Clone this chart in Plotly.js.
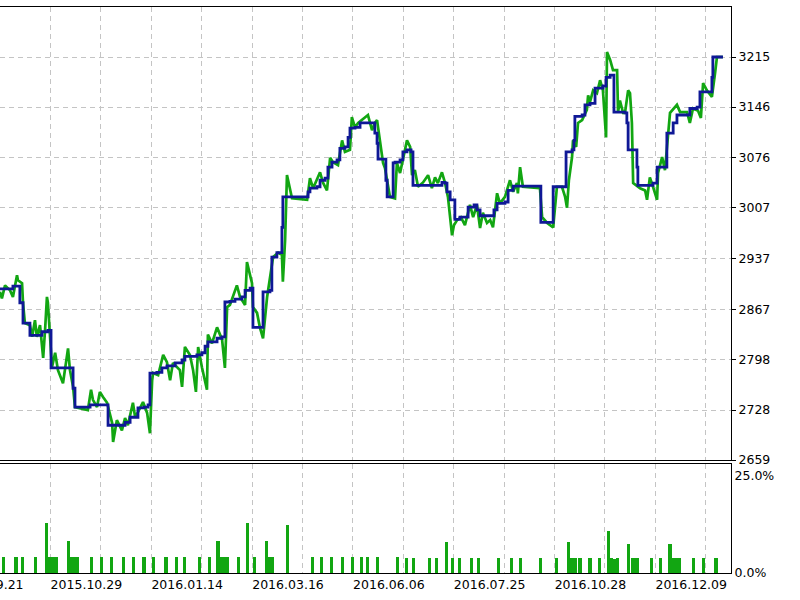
<!DOCTYPE html>
<html><head><meta charset="utf-8">
<script src="https://cdn.plot.ly/plotly-3.0.1.min.js"></script>
<style>html,body{margin:0;padding:0;background:#fff;} #chart{width:800px;height:600px;}</style>
</head><body><div id="chart"></div>
<script>
// ---- Balance (step line), x = deal number ----
const balanceDeal = [0,4.1,6.3,7.3,9.5,13.3,15.2,16.2,23.2,23.8,
 28.6,34.3,39.7,41.3,43.8,45.7,47.0,47.6,49.8,51.4,
 53.0,55.6,57.8,58.7,62.5,64.1,65.1,66.0,68.9,70.5,
 71.4,73.0,74.6,76.8,77.8,79.4,80.3,83.5,85.7,86.3,
 87.9,89.5,89.8,97.8,98.4,100.6,101.6,103.2,104.1,105.4,
 107.0,107.9,109.5,110.5,111.1,112.7,114.3,119.0,119.7,120.0,
 122.5,122.9,124.8,125.4,127.0,127.9,129.2,130.5,131.1,140.3,
 141.3,141.9,142.9,144.4,146.0,148.6,150.5,151.4,152.4,156.8,
 157.8,160.3,161.3,162.9,171.7,175.6,179.7,181.6,182.2,182.5,
 184.8,185.7,187.3,188.9,191.4,192.4,193.7,194.9,198.4,199.0,
 199.4,202.2,202.5,207.3,208.6,211.7,213.7,214.9,219.0,221.3,
 222.2,226.0,226.3,229.5];
const balanceValue = [2895,2899,2876,2848,2831,2836,2838,2786,2758,2732,
 2735,2707,2711,2718,2731,2732,2735,2779,2780,2786,
 2789,2793,2797,2802,2804,2807,2816,2822,2827,2829,
 2877,2878,2881,2884,2893,2896,2842,2891,2893,2939,
 2945,2980,3022,3029,3034,3036,3045,3048,3063,3070,
 3073,3089,3091,3104,3117,3118,3124,3110,3096,3074,
 3045,3022,3069,3070,3073,3084,3087,3084,3038,3042,
 3041,3029,3018,2991,2994,3008,3011,3004,2996,3004,
 3013,3015,3031,3037,2987,3036,3084,3087,3100,3133,
 3135,3149,3151,3172,3175,3187,3190,3139,3138,3124,
 3087,3063,3038,3041,3063,3110,3124,3135,3144,3146,
 3167,3187,3215,3215];

// ---- Equity ----
const equityDeal = [0,0.6,1.6,3.2,4.1,5.4,5.7,7.0,7.3,7.9,
 9.5,10.2,11.1,11.7,12.7,13.7,14.3,14.9,15.2,15.9,
 16.5,17.5,18.4,20.0,20.6,21.6,22.2,23.2,23.8,24.8,
 27.9,28.9,29.5,30.8,31.7,32.7,34.0,35.6,35.9,37.1,
 38.1,38.7,39.7,40.6,42.2,42.9,43.8,45.4,46.7,47.6,
 48.3,48.6,50.2,51.8,53.0,54.0,54.9,56.2,57.1,57.8,
 58.7,60.3,61.3,62.2,62.9,64.1,65.7,66.0,67.3,68.9,
 70.5,71.4,72.1,73.0,75.2,76.2,77.8,78.4,79.4,80.0,
 80.3,81.6,82.5,83.5,84.8,86.7,88.3,89.5,89.8,90.5,
 91.1,92.1,92.7,97.5,98.4,99.4,101.6,102.5,103.8,104.8,
 105.7,107.3,108.6,109.5,111.1,111.7,112.7,113.7,116.8,118.1,
 119.0,119.7,120.6,121.6,122.2,123.8,125.4,126.0,127.0,127.9,
 129.2,130.2,130.8,131.7,132.7,134.3,135.9,137.1,138.1,139.0,
 140.3,141.3,142.2,143.5,144.1,145.1,146.3,147.6,149.2,150.2,
 151.4,152.4,153.3,154.6,155.6,156.5,157.8,158.7,160.3,161.9,
 162.9,164.1,164.4,165.1,165.7,166.0,171.4,172.1,173.7,175.6,
 176.8,178.4,179.4,180.0,180.6,181.6,181.9,182.9,183.5,184.8,
 186.3,186.7,187.3,188.3,189.5,190.5,191.4,192.4,192.7,193.7,
 194.6,195.9,196.2,196.8,197.8,198.4,199.4,200.0,200.6,201.0,
 203.2,204.8,205.4,206.3,207.3,208.6,208.9,210.2,211.1,212.7,
 214.9,215.9,218.1,219.0,220.0,221.6,222.5,223.2,224.4,226.0,
 227.0,227.6,229.5];
const equityValue = [2891,2882,2900,2893,2884,2914,2907,2903,2876,2848,
 2845,2829,2852,2829,2845,2800,2838,2884,2876,2831,
 2787,2807,2783,2765,2783,2813,2783,2760,2732,2731,
 2728,2756,2742,2732,2753,2746,2738,2710,2684,2714,
 2705,2700,2717,2707,2738,2718,2725,2739,2724,2696,
 2769,2779,2776,2804,2794,2769,2793,2787,2783,2760,
 2815,2804,2783,2753,2815,2787,2756,2832,2820,2842,
 2825,2786,2870,2873,2900,2884,2873,2932,2911,2903,
 2870,2862,2842,2827,2884,2939,2945,2942,2905,2962,
 3052,3031,3020,3018,3048,3034,3056,3042,3031,3076,
 3070,3066,3100,3084,3087,3132,3118,3124,3135,3114,
 3124,3128,3096,3069,3062,3022,3020,3069,3055,3073,
 3100,3091,3052,3059,3036,3042,3052,3034,3049,3041,
 3056,3041,3022,2969,2983,2990,2994,2983,3011,2994,
 3011,2979,3000,2986,2990,2980,3027,3013,3022,3045,
 3029,3041,3027,3063,3045,3036,3034,2994,2986,2980,
 3036,3036,3022,3007,3045,3077,3100,3091,3124,3128,
 3142,3162,3153,3169,3165,3183,3169,3104,3222,3211,
 3197,3197,3139,3155,3138,3138,3169,3165,3124,3041,
 3034,3031,3018,3049,3036,3018,3055,3077,3059,3138,
 3149,3139,3139,3124,3144,3141,3131,3179,3169,3160,
 3193,3215,3215];

// ---- Deposit load (%) ----
const loadDeal = [1.0,5.1,7.2,11.4,14.8,15.8,16.8,17.8,21.7,22.7,
 23.7,24.7,29.1,32.3,35.5,39.2,42.3,45.7,48.7,52.7,
 55.9,58.7,63.3,66.4,69.2,70.2,71.2,72.2,75.7,78.5,
 80.7,84.7,85.7,86.6,91.3,99.3,102.1,105.3,108.7,111.8,
 114.8,116.7,119.8,126.3,129.1,131.2,136.3,138.6,141.8,143.7,
 145.8,149.7,151.8,158.2,162.4,165.3,171.7,176.7,180.6,181.6,
 182.6,184.1,187.3,190.3,193.1,194.1,195.1,196.1,199.6,200.8,
 201.7,202.5,206.9,209.7,212.7,213.7,214.7,215.7,220.1,223.3,
 227.3];
const loadPercent = [4.2,4.2,4.2,4.2,12.8,4.2,4.2,4.2,8.2,4.2,
 4.2,4.2,4.2,4.2,4.2,4.2,4.2,4.2,4.2,4.2,
 4.2,4.2,4.2,4.2,8.2,4.2,4.2,4.2,4.2,12.8,
 4.2,8.2,4.2,4.2,12.3,4.2,4.2,4.2,4.2,4.2,
 4.2,4.2,4.2,4.2,3.8,3.8,3.8,3.8,7.9,3.8,
 3.8,3.8,3.8,3.8,3.8,3.8,3.8,3.8,7.9,3.8,
 3.8,3.8,3.8,3.8,10.8,3.8,3.6,3.8,7.5,3.8,
 3.8,3.8,3.8,3.8,7.5,3.8,3.8,3.8,3.8,3.8,
 3.8];

// ---- Axes ----
const gridDeals = [0,16,32,48,64,80,96,112,128,144,160,176,192,208,224];
const dateLabels = ['','2015.10.29','','2016.01.14','','2016.03.16','','2016.06.06','','2016.07.25','','2016.10.28','','2016.12.09',''];
const firstDate = '2015.09.21';
const firstDateDeal = -16;
const priceTicks = [2659,2728,2798,2867,2937,3007,3076,3146,3215];
const loadTicks = [0,25];
const loadTickLabels = ['0.0%','25.0%'];

const GREEN = '#12a612', BLUE = '#0f1896', GRID = '#c4c4c4';
const FONT = {family:'DejaVu Sans', size:12.5, color:'#000'};
const xRange = [0, 232.06];

const traces = [
  {type:'scatter', mode:'lines', x:equityDeal, y:equityValue, xaxis:'x', yaxis:'y',
   line:{color:GREEN, width:2.7}, hoverinfo:'skip'},
  {type:'scatter', mode:'lines', x:balanceDeal, y:balanceValue, xaxis:'x', yaxis:'y',
   line:{color:BLUE, width:2.8, shape:'hv'}, hoverinfo:'skip'},
  {type:'bar', x:loadDeal, y:loadPercent, xaxis:'x2', yaxis:'y2', width:1,
   marker:{color:GREEN, line:{width:0}}, hoverinfo:'skip'}
];

const gridX = {tickmode:'array', tickvals:gridDeals, showgrid:true, gridcolor:GRID, griddash:'5px,4px', gridwidth:1,
  showline:true, mirror:true, linecolor:'#000', linewidth:1, zeroline:false, ticks:''};

const layout = {
  width:800, height:600,
  margin:{l:0, r:69, t:7, b:27, pad:0},
  paper_bgcolor:'#fff', plot_bgcolor:'#fff',
  showlegend:false, font:FONT, bargap:0,
  xaxis: Object.assign({}, gridX, {domain:[0,1], anchor:'y', range:xRange, showticklabels:false}),
  xaxis2: Object.assign({}, gridX, {domain:[0,1], anchor:'y2', range:xRange, ticktext:dateLabels,
    showticklabels:true, ticklabelshift:36, tickfont:FONT}),
  yaxis: {domain:[0.1996,1], anchor:'x', side:'right', range:[2659,3284], tickmode:'array',
    tickvals:priceTicks, ticktext:priceTicks.map(String), ticks:'outside', ticklen:4, tickcolor:'#000',
    showline:true, mirror:false, linecolor:'#000', linewidth:1, showgrid:true, gridcolor:GRID,
    griddash:'5px,4px', zeroline:false, tickfont:FONT},
  yaxis2: {domain:[0,0.1926], anchor:'x2', side:'right', range:[0,28], tickmode:'array',
    tickvals:loadTicks, ticktext:loadTickLabels, ticks:'', showline:true, mirror:false,
    linecolor:'#000', linewidth:1, showgrid:false, zeroline:false, tickfont:FONT},
  annotations:[{xref:'paper', yref:'paper', x:(firstDateDeal - xRange[0])/(xRange[1]-xRange[0]), y:0,
    xanchor:'left', yanchor:'top', yshift:-2, text:firstDate, showarrow:false, font:FONT}]
};

Plotly.newPlot('chart', traces, layout, {staticPlot:true, displayModeBar:false});
</script>
</body></html>
